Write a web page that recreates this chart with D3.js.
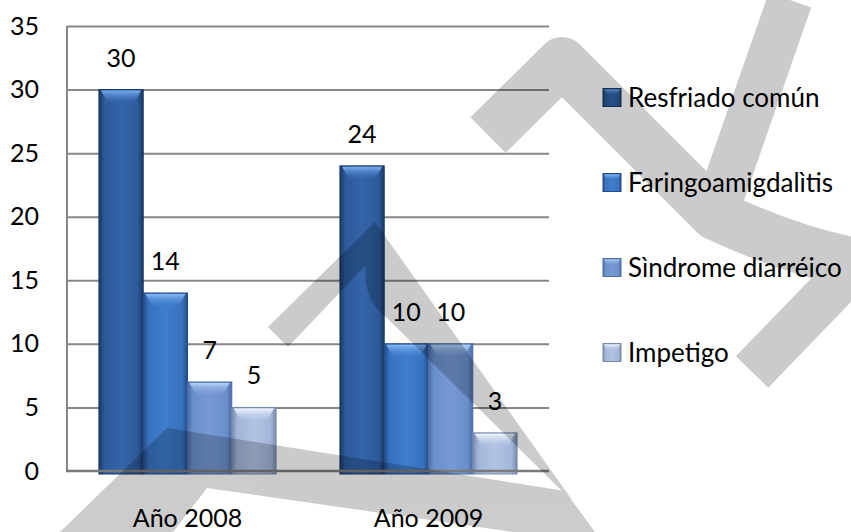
<!DOCTYPE html>
<html><head><meta charset="utf-8">
<script src="https://cdn.jsdelivr.net/npm/d3@7"></script>
<style>
html,body{margin:0;padding:0;background:#fff;}
svg{display:block;font-family:Lato,"Open Sans",sans-serif;}
</style></head>
<body><svg id="chart" width="851" height="532"></svg>
<script>
// ---- data ----
const categories = ["Año 2008", "Año 2009"];
const seriesNames = ["Resfriado común", "Faringoamigdalìtis", "Sìndrome diarréico", "Impetigo"];
const resfriadoComun = [30, 24];
const faringoamigdalitis = [14, 10];
const sindromeDiarreico = [7, 10];
const impetigo = [5, 3];
const yTicks = [0, 5, 10, 15, 20, 25, 30, 35];
const seriesValues = [resfriadoComun, faringoamigdalitis, sindromeDiarreico, impetigo];

// ---- styles ----
const palette = [
  {edge:"#1b3863", base:"#2c5a9b", mid:"#3465a9", hi:"#78acf0"},
  {edge:"#234c86", base:"#3672bf", mid:"#3f7ccb", hi:"#86b8f6"},
  {edge:"#4a6ca6", base:"#6a8fca", mid:"#7799d3", hi:"#b2cff6"},
  {edge:"#7589ae", base:"#a3b5d8", mid:"#b2c3e3", hi:"#f0f5fd"}
];
const FS = 25, LFS = 26;

const svg = d3.select("#chart");
const M = {left: 67, right: 549, top: 26, bottom: 471};

const x0 = d3.scaleBand().domain(categories).range([M.left, M.right])
  .paddingInner(0.265).paddingOuter(0.1325);
const x1 = d3.scaleBand().domain(seriesNames).range([0, x0.bandwidth()]);
const y = d3.scaleLinear().domain([0, 35]).range([M.bottom, M.top]);

// gradients
const defs = svg.append("defs");
palette.forEach((p, i) => {
  const g = defs.append("linearGradient").attr("id", "bg" + i)
    .attr("x1", "0").attr("x2", "1").attr("y1", "0").attr("y2", "0");
  [[0, p.edge], [0.12, p.base], [0.5, p.mid], [0.88, p.base], [1, p.edge]]
    .forEach(([o, c]) => g.append("stop").attr("offset", o).attr("stop-color", c));
  const h = defs.append("linearGradient").attr("id", "hg" + i)
    .attr("x1", "0").attr("x2", "0").attr("y1", "0").attr("y2", "1");
  h.append("stop").attr("offset", 0).attr("stop-color", p.hi).attr("stop-opacity", 1);
  h.append("stop").attr("offset", 1).attr("stop-color", p.mid).attr("stop-opacity", 0.3);
});

// grid + y labels
const yAxis = d3.axisLeft(y).tickValues(yTicks).tickSize(-(M.right - M.left)).tickPadding(28);
const ga = svg.append("g").attr("transform", `translate(${M.left},0)`).call(yAxis);
ga.select(".domain").remove();
ga.selectAll(".tick line").attr("stroke", "#878787").attr("stroke-width", 2);
ga.selectAll(".tick text").attr("font-size", FS).attr("fill", "#000")
  .attr("font-family", "Lato, 'Open Sans', sans-serif");
ga.selectAll(".tick").filter(d => d === 0).select("line").remove();

// left axis line
svg.append("line").attr("x1", M.left).attr("x2", M.left)
  .attr("y1", y(35)).attr("y2", y(0)).attr("stroke", "#878787").attr("stroke-width", 2);

// bars
const rows = [];
categories.forEach((c, ci) => seriesNames.forEach((s, si) =>
  rows.push({cat: c, ser: s, si, v: seriesValues[si][ci]})));

const bars = svg.append("g").selectAll("g").data(rows).join("g")
  .attr("transform", d => `translate(${x0(d.cat) + x1(d.ser)},0)`);
const bw = x1.bandwidth();
bars.append("rect")
  .attr("x", 0).attr("y", d => y(d.v)).attr("width", bw)
  .attr("height", d => y(0) - y(d.v) + 3)
  .attr("fill", d => `url(#bg${d.si})`)
  .attr("stroke", d => palette[d.si].edge).attr("stroke-width", 1);
bars.append("path")
  .attr("d", d => {
    const t = y(d.v) + 1;
    return `M2,${t}H${bw - 2}L${bw - 9},${t + 12}H9Z`;
  })
  .attr("fill", d => `url(#hg${d.si})`);
bars.append("text")
  .attr("x", bw / 2).attr("y", d => y(d.v) - 23)
  .attr("text-anchor", "middle").attr("font-size", FS).attr("fill", "#000")
  .text(d => d.v);

// baseline
svg.append("line").attr("x1", M.left - 1).attr("x2", M.right)
  .attr("y1", y(0)).attr("y2", y(0)).attr("stroke", "#7a7a7a").attr("stroke-width", 2.5);

// category labels
svg.append("g").selectAll("text").data(categories).join("text")
  .attr("x", d => x0(d) + x0.bandwidth() / 2).attr("y", 527)
  .attr("text-anchor", "middle").attr("font-size", FS).attr("fill", "#000")
  .text(d => d);

// legend
const legY = d3.scalePoint().domain(seriesNames).range([97.5, 352.5]);
const lg = svg.append("g").selectAll("g").data(seriesNames).join("g")
  .attr("transform", d => `translate(603,${legY(d)})`);
lg.append("rect").attr("x", 0).attr("y", -9).attr("width", 18).attr("height", 18)
  .attr("fill", (d, i) => `url(#bg${i})`).attr("stroke", (d, i) => palette[i].edge);
lg.append("path").attr("d", "M1,-8H17L14,-3H4Z").attr("fill", (d, i) => `url(#hg${i})`);
lg.append("text").attr("x", 25).attr("y", 0).attr("dy", "0.35em")
  .attr("font-size", LFS).attr("fill", "#000").text(d => d);

// watermark (decorative, semi-transparent)
const wm = svg.append("g").attr("opacity", 0.2);
wm.append("path").attr("fill", "#000")
  .attr("d", "M60,532L167,428L565,491L595,532L513,532L207,488L173,532Z");
wm.append("path").attr("fill", "#000")
  .attr("d", "M268,327L375,222L572,500L560,489L387,318Q362,300 366,265L288,347Z");
wm.append("path").attr("fill", "none").attr("stroke", "#000").attr("stroke-width", 50)
  .attr("stroke-linejoin", "round")
  .attr("d", "M488,135L562,62Q640,140 715,215Q790,250 851,262");
wm.append("path").attr("fill", "none").attr("stroke", "#000").attr("stroke-width", 45)
  .attr("d", "M870,250L752,372");
wm.append("path").attr("fill", "none").attr("stroke", "#000").attr("stroke-width", 45)
  .attr("d", "M790,0L715,215");
</script></body></html>
